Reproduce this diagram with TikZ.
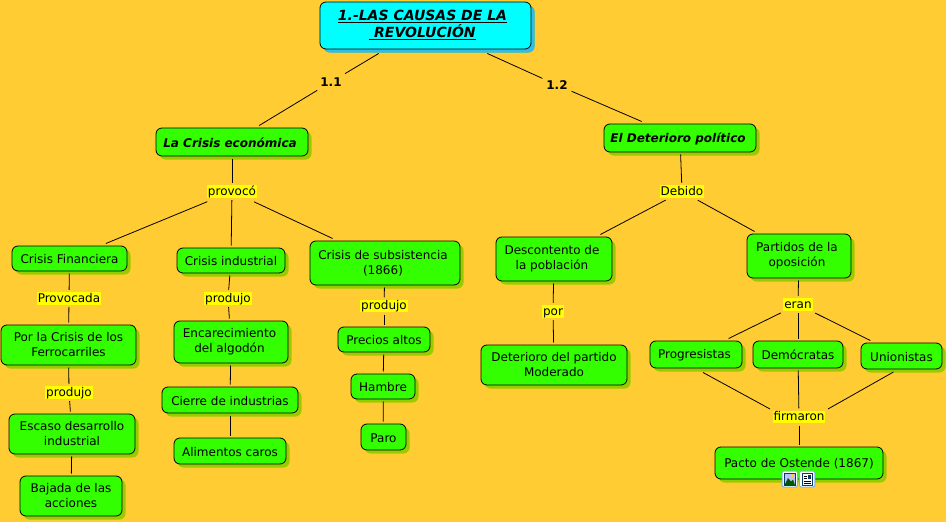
\documentclass[tikz,border=0pt]{standalone}
\usepackage{fontspec}
\setmainfont{DejaVu Sans}
\usetikzlibrary{shadows}
\definecolor{bgc}{HTML}{FFCC33}
\definecolor{boxg}{HTML}{33FF00}
\definecolor{shg}{HTML}{99CC00}
\definecolor{rootc}{HTML}{00FFFF}
\definecolor{shc}{HTML}{33BBEE}
\definecolor{lab}{HTML}{FFFF00}
\definecolor{iconb}{HTML}{7FB2E0}
\definecolor{icond}{HTML}{0B3A66}
\tikzset{
  concept/.style={draw=black,line width=0.8pt,rounded corners=6pt,fill=boxg,align=center,inner sep=0pt,outer sep=2.5pt,
    font=\fontsize{12}{15}\selectfont,
    drop shadow={shadow xshift=3.5pt,shadow yshift=-3.5pt,fill=shg,opacity=1}},
  lowered/.style={execute at begin node={\rule{0pt}{10.5pt}}},
  loweredtwo/.style={execute at begin node={\rule{0pt}{14pt}}},
  subject/.style={concept,lowered,font=\fontsize{12}{15}\selectfont\bfseries\itshape},
  plain concept/.style={concept,lowered},
  two lines/.style={concept,loweredtwo},
  rootbox/.style={concept,fill=rootc,outer sep=4.5pt,font=\fontsize{14}{17}\selectfont\bfseries\itshape,
    execute at end node={\rule[-3.8pt]{0pt}{3.8pt}},
    drop shadow={shadow xshift=3.5pt,shadow yshift=-3.5pt,fill=shc,opacity=1}},
  linkword/.style={fill=lab,inner xsep=1pt,inner ysep=0pt,text height=9.8pt,text depth=2.5pt,outer sep=2.5pt,font=\fontsize{12}{14}\selectfont},
  linkbold/.style={inner sep=1pt,outer sep=3pt,font=\fontsize{12}{14}\selectfont\bfseries},
  conn/.style={draw=black,line width=0.8pt},
  iconbox/.style={draw=iconb,fill=white,line width=1pt,rounded corners=2pt,minimum width=15.5pt,minimum height=16pt,inner sep=0pt}
}
\begin{document}
\begin{tikzpicture}[x=1pt,y=-1pt]
\useasboundingbox (0,0) rectangle (946,522);
\fill[bgc] (0,0) rectangle (946,522);
% concepts
\node[rootbox,minimum width=211pt,minimum height=47pt] (root) at (425.5,25.5) {\underline{1.-LAS CAUSAS DE LA}\hspace*{6pt}\\\underline{\ REVOLUCIÓN}\hspace*{6pt}};
\node[subject,minimum width=152pt,minimum height=28pt] (econ) at (232,142) {La Crisis económica\hspace*{4pt}};
\node[subject,minimum width=152pt,minimum height=28pt] (pol) at (680,138) {El Deterioro político\hspace*{4pt}};
\node[plain concept,minimum width=115pt,minimum height=25pt] (cfin) at (69.5,258.5) {Crisis Financiera};
\node[plain concept,minimum width=108pt,minimum height=25pt] (cind) at (231,260.5) {Crisis industrial};
\node[two lines,minimum width=150pt,minimum height=44pt] (csub) at (385,263) {Crisis de subsistencia\hspace*{4pt}\\(1866)\hspace*{4pt}};
\node[two lines,minimum width=135pt,minimum height=40pt] (ppor) at (68.5,345) {Por la Crisis de los\\Ferrocarriles};
\node[two lines,minimum width=126pt,minimum height=40pt] (esc) at (72,434) {Escaso desarrollo\\industrial};
\node[two lines,minimum width=102pt,minimum height=40pt] (baj) at (71,496) {Bajada de las\\acciones};
\node[two lines,minimum width=114pt,minimum height=42pt] (enc) at (231,342) {Encarecimiento\hspace*{3pt}\\del algodón\hspace*{3pt}};
\node[plain concept,minimum width=136pt,minimum height=26pt] (cie) at (230,400) {Cierre de industrias};
\node[plain concept,minimum width=112pt,minimum height=26pt] (ali) at (230,451) {Alimentos caros};
\node[plain concept,minimum width=92pt,minimum height=25pt] (pre) at (384,339.5) {Precios altos};
\node[plain concept,minimum width=64pt,minimum height=25pt] (ham) at (383,386.5) {Hambre};
\node[plain concept,minimum width=45pt,minimum height=26pt] (par) at (383.5,437) {Paro};
\node[two lines,minimum width=116pt,minimum height=44pt] (des) at (554,259) {Descontento de\hspace*{4pt}\\la población\hspace*{4pt}};
\node[two lines,minimum width=146pt,minimum height=40pt] (det) at (554,365) {Deterioro del partido\\Moderado};
\node[two lines,minimum width=104pt,minimum height=44pt] (pat) at (799,256) {Partidos de la\hspace*{4pt}\\oposición\hspace*{4pt}};
\node[plain concept,minimum width=92pt,minimum height=27pt] (pro) at (696,354.5) {Progresistas\hspace*{3pt}};
\node[plain concept,minimum width=90pt,minimum height=27pt] (dem) at (798,354.5) {Demócratas};
\node[plain concept,minimum width=81pt,minimum height=26pt] (uni) at (901.5,356) {Unionistas};
\node[plain concept,minimum width=168pt,minimum height=32pt] (pac) at (799,463) {Pacto de Ostende (1867)};
% linking words
\node[linkbold] (l11) at (331,82) {1.1};
\node[linkbold] (l12) at (557,85) {1.2};
\node[linkword] (provoco) at (232,191.5) {provocó};
\node[linkword] (debido) at (682,191.5) {Debido};
\node[linkword] (provocada) at (69,298.5) {Provocada};
\node[linkword] (prod1) at (69,392.5) {produjo};
\node[linkword] (prod2) at (228,298.5) {produjo};
\node[linkword] (prod3) at (384,306) {produjo};
\node[linkword] (porw) at (553,311.5) {por\ };
\node[linkword] (eran) at (798,304.5) {eran};
\node[linkword] (firm) at (799,417) {firmaron};
% connectors
\draw[conn] (root) -- (l11);
\draw[conn] (l11) -- (econ);
\draw[conn] (root) -- (l12);
\draw[conn] (l12) -- (pol);
\draw[conn] (econ) -- (provoco);
\draw[conn,shorten <=4pt] (provoco) -- (cfin);
\draw[conn] (provoco) -- (cind);
\draw[conn,shorten <=4pt] (provoco) -- (csub);
\draw[conn] (cfin) -- (provocada);
\draw[conn] (provocada) -- (ppor);
\draw[conn] (ppor) -- (prod1);
\draw[conn] (prod1) -- (esc);
\draw[conn] (esc) -- (baj);
\draw[conn] (cind) -- (prod2);
\draw[conn] (prod2) -- (enc);
\draw[conn] (enc) -- (cie);
\draw[conn] (cie) -- (ali);
\draw[conn] (csub) -- (prod3);
\draw[conn] (prod3) -- (pre);
\draw[conn] (pre) -- (ham);
\draw[conn] (ham) -- (par);
\draw[conn] (pol) -- (debido);
\draw[conn] (debido) -- (des);
\draw[conn] (debido) -- (pat);
\draw[conn] (des) -- (porw);
\draw[conn] (porw) -- (det);
\draw[conn] (pat) -- (eran);
\draw[conn] (eran) -- (pro);
\draw[conn] (eran) -- (dem);
\draw[conn] (eran) -- (uni);
\draw[conn] ([shift={(7,2)}]pro.south) -- ([shift={(0,-8)}]firm.west);
\draw[conn] (dem) -- (firm);
\draw[conn] ([shift={(-8,0.5)}]uni.south) -- ([shift={(0,-8)}]firm.east);
\draw[conn] (firm) -- (pac);
% icons
\node[iconbox] (ic1) at (789.8,479) {};
\node[iconbox] (ic2) at (807.2,479) {};
\fill[blue!25!white] (784.5,473) rectangle (795,485);
\fill[green!35!black] (784.5,485) -- (788,478) -- (791,481.5) -- (793,479.5) -- (795,485) -- cycle;
\fill[yellow!80!orange] (792.5,475.5) circle (1.5);
\draw[icond,line width=0.8pt] (784.5,473) rectangle (795,485);
\draw[icond,line width=0.8pt] (802,473) rectangle (812.5,485);
\foreach \yy in {476,478.5} \draw[black,line width=0.8pt] (803.5,\yy) -- (806.5,\yy);
\foreach \yy in {481,483} \draw[black,line width=0.8pt] (803.5,\yy) -- (811,\yy);
\fill[icond] (807.5,474.5) rectangle (811,478.5);
\end{tikzpicture}
\end{document}
